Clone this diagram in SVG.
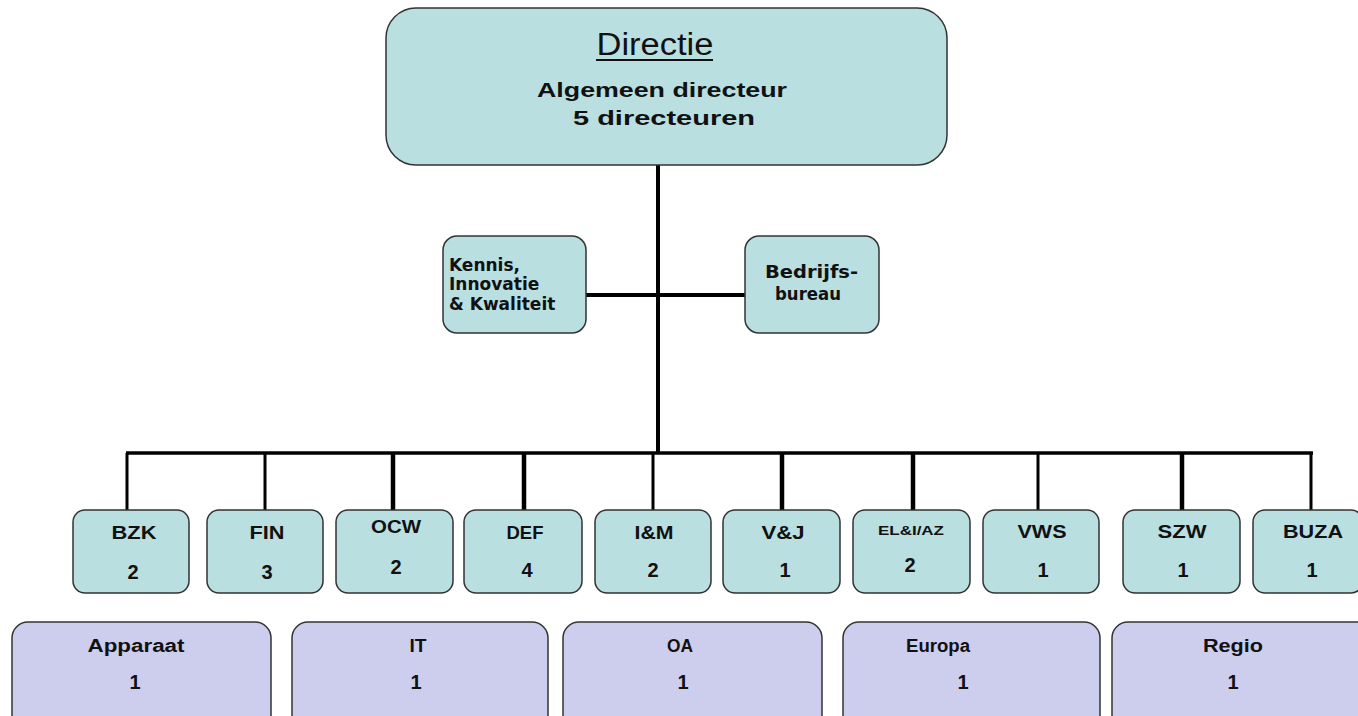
<svg xmlns="http://www.w3.org/2000/svg" width="1358" height="716" viewBox="0 0 1358 716">
<style>
.t{fill:#b9dfe1;stroke:#333;stroke-width:1.5}
.b{fill:#cdcdee;stroke:#333;stroke-width:1.5}
.l{stroke:#000;fill:none}
text{font-family:"Liberation Sans",Arial,sans-serif;fill:#111;text-anchor:middle}
.bd{font-weight:bold}
.v{font-family:"DejaVu Sans",Verdana,sans-serif;font-weight:bold;font-size:17px;text-anchor:start}
.s{font-size:18px;font-weight:bold}
.d{font-size:20px;font-weight:bold}
</style>
<rect width="1358" height="716" fill="#fff"/>
<g id="connectors">
<line class="l" x1="658" y1="165" x2="658" y2="453" stroke-width="4"/>
<line class="l" x1="586" y1="295" x2="745" y2="295" stroke-width="4"/>
<line class="l" x1="126" y1="453" x2="1313" y2="453" stroke-width="3.5"/>
<line class="l" x1="127" y1="453" x2="127" y2="510" stroke-width="3"/>
<line class="l" x1="265" y1="453" x2="265" y2="510" stroke-width="3"/>
<line class="l" x1="393" y1="453" x2="393" y2="510" stroke-width="4.5"/>
<line class="l" x1="524" y1="453" x2="524" y2="510" stroke-width="4.5"/>
<line class="l" x1="653" y1="453" x2="653" y2="510" stroke-width="3"/>
<line class="l" x1="782" y1="453" x2="782" y2="510" stroke-width="4.5"/>
<line class="l" x1="913" y1="453" x2="913" y2="510" stroke-width="4.5"/>
<line class="l" x1="1038" y1="453" x2="1038" y2="510" stroke-width="3"/>
<line class="l" x1="1182" y1="453" x2="1182" y2="510" stroke-width="4.5"/>
<line class="l" x1="1311" y1="453" x2="1311" y2="510" stroke-width="3"/>
</g>
<g id="directie">
<rect class="t" x="386" y="8" width="561" height="157" rx="30"/>
<text x="655" y="55" font-size="31" textLength="117" lengthAdjust="spacingAndGlyphs">Directie</text>
<line x1="596" y1="60" x2="713" y2="60" stroke="#111" stroke-width="2"/>
<text class="bd" x="662" y="97" font-size="21" textLength="250" lengthAdjust="spacingAndGlyphs">Algemeen directeur</text>
<text class="bd" x="664" y="125" font-size="21" textLength="182" lengthAdjust="spacingAndGlyphs">5 directeuren</text>
</g>
<g id="kik">
<rect class="t" x="443" y="236" width="143" height="97" rx="14"/>
<text class="v" x="449" y="271">Kennis,</text>
<text class="v" x="449" y="290">Innovatie</text>
<text class="v" x="449" y="310">&amp; Kwaliteit</text>
</g>
<g id="bedrijfsbureau">
<rect class="t" x="745" y="236" width="134" height="97" rx="14"/>
<text class="v" x="765" y="278" textLength="93" lengthAdjust="spacingAndGlyphs">Bedrijfs-</text>
<text class="v" x="775" y="300" textLength="66" lengthAdjust="spacingAndGlyphs">bureau</text>
</g>
<g id="bzk"><rect class="t" x="73" y="510" width="116" height="83" rx="12"/>
<text class="s" x="134" y="539" textLength="45" lengthAdjust="spacingAndGlyphs">BZK</text><text class="d" x="133" y="579">2</text></g>
<g id="fin"><rect class="t" x="207" y="510" width="116" height="83" rx="12"/>
<text class="s" x="267" y="539" textLength="35" lengthAdjust="spacingAndGlyphs">FIN</text><text class="d" x="267" y="579">3</text></g>
<g id="ocw"><rect class="t" x="336" y="510" width="117" height="83" rx="12"/>
<text class="s" x="396" y="533" textLength="50" lengthAdjust="spacingAndGlyphs">OCW</text><text class="d" x="396" y="574">2</text></g>
<g id="def"><rect class="t" x="464" y="510" width="118" height="83" rx="12"/>
<text class="s" x="525" y="539" textLength="37" lengthAdjust="spacingAndGlyphs">DEF</text><text class="d" x="527" y="577">4</text></g>
<g id="im"><rect class="t" x="595" y="510" width="116" height="83" rx="12"/>
<text class="s" x="654" y="539" textLength="39" lengthAdjust="spacingAndGlyphs">I&amp;M</text><text class="d" x="653" y="577">2</text></g>
<g id="vj"><rect class="t" x="723" y="510" width="117" height="83" rx="12"/>
<text class="s" x="783" y="539" textLength="43" lengthAdjust="spacingAndGlyphs">V&amp;J</text><text class="d" x="785" y="577">1</text></g>
<g id="eli"><rect class="t" x="853" y="510" width="117" height="83" rx="12"/>
<text class="bd" x="911" y="535" font-size="12" textLength="66" lengthAdjust="spacingAndGlyphs">EL&amp;I/AZ</text><text class="d" x="910" y="572">2</text></g>
<g id="vws"><rect class="t" x="983" y="510" width="116" height="83" rx="12"/>
<text class="s" x="1042" y="538" textLength="49" lengthAdjust="spacingAndGlyphs">VWS</text><text class="d" x="1043" y="577">1</text></g>
<g id="szw"><rect class="t" x="1123" y="510" width="117" height="83" rx="12"/>
<text class="s" x="1182" y="538" textLength="49" lengthAdjust="spacingAndGlyphs">SZW</text><text class="d" x="1183" y="577">1</text></g>
<g id="buza"><rect class="t" x="1253" y="510" width="110" height="83" rx="12"/>
<text class="s" x="1313" y="538" textLength="60" lengthAdjust="spacingAndGlyphs">BUZA</text><text class="d" x="1312" y="577">1</text></g>
<g id="apparaat"><rect class="b" x="12" y="622" width="259" height="110" rx="16"/>
<text class="s" x="136" y="652" textLength="97" lengthAdjust="spacingAndGlyphs">Apparaat</text><text class="d" x="135" y="689">1</text></g>
<g id="it"><rect class="b" x="292" y="622" width="256" height="110" rx="16"/>
<text class="s" x="418" y="652" textLength="17" lengthAdjust="spacingAndGlyphs">IT</text><text class="d" x="416" y="689">1</text></g>
<g id="oa"><rect class="b" x="563" y="622" width="259" height="110" rx="16"/>
<text class="s" x="680" y="652" textLength="26" lengthAdjust="spacingAndGlyphs">OA</text><text class="d" x="683" y="689">1</text></g>
<g id="europa"><rect class="b" x="843" y="622" width="257" height="110" rx="16"/>
<text class="s" x="938" y="652" textLength="64" lengthAdjust="spacingAndGlyphs">Europa</text><text class="d" x="963" y="689">1</text></g>
<g id="regio"><rect class="b" x="1112" y="622" width="260" height="110" rx="16"/>
<text class="s" x="1233" y="652" textLength="60" lengthAdjust="spacingAndGlyphs">Regio</text><text class="d" x="1233" y="689">1</text></g>
</svg>
